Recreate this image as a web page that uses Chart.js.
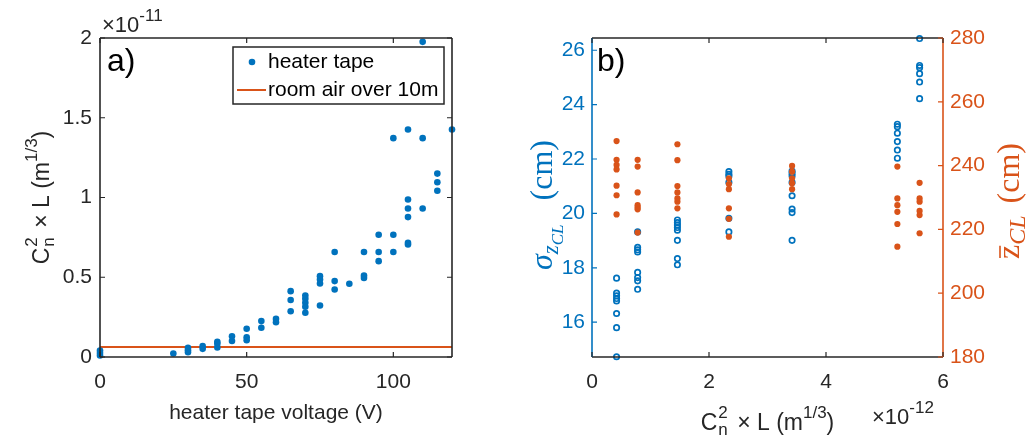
<!DOCTYPE html>
<html>
<head>
<meta charset="utf-8">
<script src="https://cdn.jsdelivr.net/npm/chart.js@4.4.1/dist/chart.umd.min.js"></script>
<style>
  html, body { margin: 0; padding: 0; background: #fff; }
  #wrap { position: relative; width: 1031px; height: 445px; overflow: hidden; }
  canvas { position: absolute; top: 0; }
  #a { left: 0; }
  #b { left: 520px; }
</style>
</head>
<body>
<div id="wrap">
  <canvas id="a" width="520" height="445"></canvas>
  <canvas id="b" width="511" height="445"></canvas>
</div>
<script>
// ---- panel a) data: heater tape voltage vs Cn^2 x L (units of 1e-11 m^1/3)
const voltage = [0, 0, 0, 25, 30, 30, 30, 35, 35, 40, 40, 40, 45, 45, 50, 50, 50, 55, 55, 60, 60,
  65, 65, 65, 70, 70, 70, 70, 70, 75, 75, 75, 75, 80, 80, 80, 85, 90, 90, 90, 95, 95, 95,
  100, 100, 100, 105, 105, 105, 105, 105, 105, 110, 110, 110, 115, 115, 115, 120];
const cn2L = [0.04, 0.025, 0.01, 0.022, 0.057, 0.043, 0.03, 0.068, 0.051, 0.095, 0.083, 0.06,
  0.13, 0.1, 0.177, 0.124, 0.105, 0.225, 0.183, 0.239, 0.218,
  0.413, 0.357, 0.287, 0.386, 0.365, 0.34, 0.315, 0.277, 0.507, 0.486, 0.461, 0.323,
  0.658, 0.476, 0.423, 0.459, 0.658, 0.511, 0.496, 0.766, 0.658, 0.601,
  1.372, 0.766, 0.658, 1.426, 0.987, 0.931, 0.877, 0.716, 0.705, 1.976, 1.372, 0.931,
  1.15, 1.096, 1.042, 1.426];
const roomAir = 0.062;
const xLimA = [0, 120];
const xTicksA = [0, 50, 100];
const yTicksA = [0, 0.5, 1, 1.5, 2];

// ---- panel b) data: Cn^2 x L (units of 1e-12) groups, sigma_z (cm) and mean z (cm)
const cn2Groups = [0.42, 0.78, 1.46, 2.34, 3.42, 5.22, 5.6];
const sigmaZ = [
  [17.62, 17.07, 16.97, 16.87, 16.78, 16.32, 15.80, 14.73],
  [19.32, 18.75, 18.66, 18.58, 17.83, 17.64, 17.52, 17.21],
  [19.76, 19.66, 19.57, 19.48, 19.38, 19.01, 18.34, 18.11],
  [21.54, 21.44, 21.37, 21.14, 19.82, 19.32],
  [21.56, 21.48, 21.38, 21.14, 20.65, 20.16, 20.03, 19.01],
  [23.28, 23.19, 22.95, 22.64, 22.33, 22.03],
  [26.43, 25.44, 25.36, 25.14, 24.83, 24.22]
];
const zMean = [
  [247.7, 241.8, 240.2, 238.8, 233.7, 230.7, 224.7],
  [241.8, 239.7, 231.6, 227.6, 226.9, 226.3, 219.0],
  [246.7, 241.7, 233.6, 231.6, 229.7, 228.7, 226.6],
  [236.0, 234.2, 232.6, 226.6, 223.3, 217.7],
  [239.9, 238.1, 236.0, 234.5, 232.6],
  [239.7, 229.7, 227.6, 225.5, 221.7, 214.6],
  [234.6, 229.7, 228.7, 225.8, 224.5, 218.8]
];
const xTicksB = [0, 2, 4, 6];
const yLimB = [14.72, 26.45];
const yTicksB = [16, 18, 20, 22, 24, 26];
const y2TicksB = [180, 200, 220, 240, 260, 280];

const BLUE = '#0072BD', ORANGE = '#D95319', INK = '#262626';
const SANS = '"Liberation Sans", Arial, sans-serif';
const SERIF = '"Liberation Serif", "Times New Roman", serif';
Chart.defaults.font.family = SANS;
Chart.defaults.font.size = 21;

// text with sub/superscripts, centred on (cx, cy) baseline
function segWidth(ctx, s) {
  if (s.gap) return s.gap;
  if (s.stack) return Math.max(...s.stack.map(p => segWidth(ctx, p)));
  ctx.font = s.font;
  return ctx.measureText(s.t).width;
}
function drawRich(ctx, segs, cx, cy, rot, color, align) {
  ctx.save();
  ctx.translate(cx, cy);
  ctx.rotate(rot);
  const total = segs.reduce((w, s) => w + segWidth(ctx, s), 0);
  let x = align === 'left' ? 0 : -total / 2;
  ctx.fillStyle = color;
  ctx.strokeStyle = color;
  ctx.textAlign = 'left';
  ctx.textBaseline = 'alphabetic';
  segs.forEach(s => {
    if (!s.gap) {
      (s.stack || [s]).forEach(p => {
        ctx.font = p.font;
        ctx.fillText(p.t, x, p.dy || 0);
        if (p.bar) {
          const w = ctx.measureText(p.t).width;
          ctx.lineWidth = 1.6;
          ctx.beginPath();
          ctx.moveTo(x + 1, -19);
          ctx.lineTo(x + w - 1, -19);
          ctx.stroke();
        }
      });
    }
    x += segWidth(ctx, s);
  });
  ctx.restore();
}

function inwardTicks(ctx, scale, values, side, area, color) {
  const len = 5;
  ctx.save();
  ctx.strokeStyle = color;
  ctx.lineWidth = 1.2;
  ctx.beginPath();
  values.forEach(v => {
    const p = scale.getPixelForValue(v);
    if (side === 'bottom') { ctx.moveTo(p, area.bottom); ctx.lineTo(p, area.bottom - len); }
    if (side === 'top') { ctx.moveTo(p, area.top); ctx.lineTo(p, area.top + len); }
    if (side === 'left') { ctx.moveTo(area.left, p); ctx.lineTo(area.left + len, p); }
    if (side === 'right') { ctx.moveTo(area.right, p); ctx.lineTo(area.right - len, p); }
  });
  ctx.stroke();
  ctx.restore();
}

function drawBox(ctx, a, colors) {
  ctx.save();
  ctx.lineWidth = 1.6;
  const sides = [
    ['top', a.left, a.top, a.right, a.top],
    ['bottom', a.left, a.bottom, a.right, a.bottom],
    ['left', a.left, a.top, a.left, a.bottom],
    ['right', a.right, a.top, a.right, a.bottom]
  ];
  sides.forEach(([k, x1, y1, x2, y2]) => {
    ctx.strokeStyle = colors[k];
    ctx.beginPath();
    ctx.moveTo(x1, y1);
    ctx.lineTo(x2, y2);
    ctx.stroke();
  });
  ctx.restore();
}

const cn2Label = [
  { t: 'C', font: '23px ' + SANS },
  { gap: 1 },
  { stack: [{ t: '2', font: '17px ' + SANS, dy: -12 }, { t: 'n', font: '17px ' + SANS, dy: 5 }] },
  { gap: 3 },
  { t: ' \u00d7 L (m', font: '23px ' + SANS },
  { t: '1/3', font: '17px ' + SANS, dy: -12 },
  { t: ')', font: '23px ' + SANS }
];

const frameA = {
  id: 'frameA',
  afterDraw(chart) {
    const ctx = chart.ctx, a = chart.chartArea;
    const sx = chart.scales.x, sy = chart.scales.y;
    drawBox(ctx, a, { top: INK, bottom: INK, left: INK, right: INK });
    inwardTicks(ctx, sx, xTicksA, 'bottom', a, INK);
    inwardTicks(ctx, sx, xTicksA, 'top', a, INK);
    inwardTicks(ctx, sy, yTicksA, 'left', a, INK);
    inwardTicks(ctx, sy, yTicksA, 'right', a, INK);

    // exponent
    drawRich(ctx, [
      { t: '\u00d710', font: '22px ' + SANS },
      { t: '-11', font: '17px ' + SANS, dy: -11 }
    ], 102, 32, 0, INK, 'left');
    // axis titles
    drawRich(ctx, cn2Label, 49, (a.top + a.bottom) / 2, -Math.PI / 2, INK);
    drawRich(ctx, [{ t: 'heater tape voltage (V)', font: '21px ' + SANS }],
      (a.left + a.right) / 2, 419, 0, INK);
    // panel letter
    drawRich(ctx, [{ t: 'a)', font: '32px ' + SANS }], 107, 71, 0, '#000', 'left');

    // legend
    const ds = chart.data.datasets;
    ctx.save();
    ctx.fillStyle = '#fff';
    ctx.strokeStyle = INK;
    ctx.lineWidth = 1.5;
    ctx.fillRect(233, 47, 211, 57);
    ctx.strokeRect(233, 47, 211, 57);
    ctx.fillStyle = ds[0].backgroundColor;
    ctx.beginPath();
    ctx.arc(252, 62, 3.3, 0, Math.PI * 2);
    ctx.fill();
    ctx.strokeStyle = ds[1].borderColor;
    ctx.lineWidth = 2;
    ctx.beginPath();
    ctx.moveTo(237, 90);
    ctx.lineTo(266, 90);
    ctx.stroke();
    ctx.fillStyle = '#000';
    ctx.font = '21px ' + SANS;
    ctx.textBaseline = 'middle';
    ctx.fillText(ds[0].label, 268, 62);
    ctx.fillText(ds[1].label, 268, 90);
    ctx.restore();
  }
};

const frameB = {
  id: 'frameB',
  afterDraw(chart) {
    const ctx = chart.ctx, a = chart.chartArea;
    const sx = chart.scales.x, sy = chart.scales.y, sy2 = chart.scales.y2;
    drawBox(ctx, a, { top: INK, bottom: INK, left: BLUE, right: ORANGE });
    inwardTicks(ctx, sx, xTicksB, 'bottom', a, INK);
    inwardTicks(ctx, sx, xTicksB, 'top', a, INK);
    inwardTicks(ctx, sy, yTicksB, 'left', a, BLUE);
    inwardTicks(ctx, sy2, y2TicksB, 'right', a, ORANGE);

    drawRich(ctx, [
      { t: '\u00d710', font: '22px ' + SANS },
      { t: '-12', font: '17px ' + SANS, dy: -11 }
    ], 872 - 520, 424, 0, INK, 'left');
    drawRich(ctx, cn2Label, (a.left + a.right) / 2, 430, 0, INK);
    drawRich(ctx, [
      { t: '\u03c3', font: 'italic 32px ' + SERIF },
      { t: 'z', font: 'italic 23px ' + SERIF, dy: 6 },
      { t: 'CL', font: 'italic 17px ' + SERIF, dy: 11 },
      { gap: 24 },
      { t: '(cm)', font: '32px ' + SERIF }
    ], 552 - 520, 205, -Math.PI / 2, BLUE);
    drawRich(ctx, [
      { t: 'z', font: '32px ' + SERIF, bar: true },
      { t: 'CL', font: 'italic 24px ' + SERIF, dy: 6 },
      { gap: 12 },
      { t: '(cm)', font: '32px ' + SERIF }
    ], 1019 - 520, 201, -Math.PI / 2, ORANGE);
    drawRich(ctx, [{ t: 'b)', font: '32px ' + SANS }], 597 - 520, 71, 0, '#000', 'left');
  }
};

const setTicks = vals => s => { s.ticks = vals.map(v => ({ value: v })); };
const tickFont = { size: 21, family: SANS };

new Chart(document.getElementById('a'), {
  type: 'scatter',
  data: {
    datasets: [
      {
        label: 'heater tape',
        data: voltage.map((v, i) => ({ x: v, y: cn2L[i] })),
        backgroundColor: BLUE,
        borderColor: BLUE,
        borderWidth: 0,
        pointRadius: 3.3,
        clip: false
      },
      {
        type: 'line',
        label: 'room air over 10m',
        data: xLimA.map(x => ({ x: x, y: roomAir })),
        borderColor: ORANGE,
        borderWidth: 2,
        pointRadius: 0
      }
    ]
  },
  options: {
    responsive: false,
    animation: false,
    layout: { padding: { left: 0, right: 68, top: 38, bottom: 0 } },
    plugins: { legend: { display: false }, tooltip: { enabled: false } },
    scales: {
      x: {
        type: 'linear', min: xLimA[0], max: xLimA[1],
        afterBuildTicks: setTicks(xTicksA),
        afterFit: s => { s.height = 88; },
        grid: { display: false, drawTicks: false },
        border: { display: false },
        ticks: { color: INK, font: tickFont, padding: 13, maxRotation: 0, autoSkip: false, callback: v => String(v) }
      },
      y: {
        type: 'linear', min: 0, max: 2,
        afterBuildTicks: setTicks(yTicksA),
        afterFit: s => { s.width = 100; },
        grid: { display: false, drawTicks: false },
        border: { display: false },
        ticks: { color: INK, font: tickFont, padding: 8, autoSkip: false, callback: v => String(v) }
      }
    }
  },
  plugins: [frameA]
});

new Chart(document.getElementById('b'), {
  type: 'scatter',
  data: {
    datasets: [
      {
        label: 'mean z',
        yAxisID: 'y2',
        data: cn2Groups.flatMap((x, i) => zMean[i].map(z => ({ x: x, y: z }))),
        backgroundColor: ORANGE,
        borderColor: ORANGE,
        borderWidth: 0,
        pointRadius: 3.1,
        clip: false
      },
      {
        label: 'sigma z',
        yAxisID: 'y',
        data: cn2Groups.flatMap((x, i) => sigmaZ[i].map(s => ({ x: x, y: s }))),
        backgroundColor: 'rgba(0,0,0,0)',
        borderColor: BLUE,
        borderWidth: 1.7,
        pointRadius: 2.7,
        clip: false
      }
    ]
  },
  options: {
    responsive: false,
    animation: false,
    layout: { padding: { left: 0, right: 0, top: 38, bottom: 0 } },
    plugins: { legend: { display: false }, tooltip: { enabled: false } },
    scales: {
      x: {
        type: 'linear', min: 0, max: 6,
        afterBuildTicks: setTicks(xTicksB),
        afterFit: s => { s.height = 88; },
        grid: { display: false, drawTicks: false },
        border: { display: false },
        ticks: { color: INK, font: tickFont, padding: 13, maxRotation: 0, autoSkip: false, callback: v => String(v) }
      },
      y: {
        type: 'linear', position: 'left', min: yLimB[0], max: yLimB[1],
        afterBuildTicks: setTicks(yTicksB),
        afterFit: s => { s.width = 72; },
        grid: { display: false, drawTicks: false },
        border: { display: false },
        ticks: { color: BLUE, font: tickFont, padding: 7, autoSkip: false, callback: v => String(v) }
      },
      y2: {
        type: 'linear', position: 'right', min: 180, max: 280,
        afterBuildTicks: setTicks(y2TicksB),
        afterFit: s => { s.width = 88; },
        grid: { display: false, drawTicks: false },
        border: { display: false },
        ticks: { color: ORANGE, font: tickFont, padding: 7, autoSkip: false, callback: v => String(v) }
      }
    }
  },
  plugins: [frameB]
});
</script>
</body>
</html>
